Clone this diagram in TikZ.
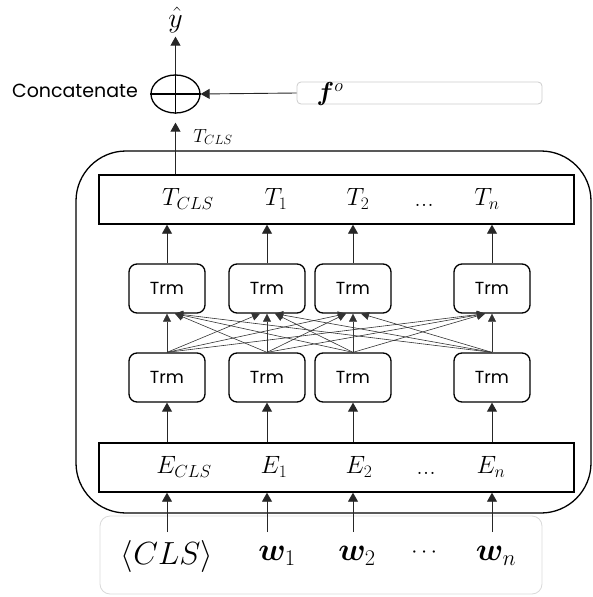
\RequirePackage{fix-cm}
\documentclass[tikz,border=0pt]{standalone}
\usepackage{fontspec}
\usepackage{amsmath,bm}
\setsansfont{Poppins}
\usetikzlibrary{arrows.meta,calc,shapes.geometric}

\begin{document}
\begin{tikzpicture}[x=1pt,y=-1pt,
  tip/.style={-{Triangle[length=9pt,width=10pt]}},
  link/.style={tip, line width=0.9pt, draw=black!85},
  cross/.style={-{Triangle[length=8pt,width=8pt]}, line width=0.6pt, draw=black!80},
  layer/.style={draw, line width=1.4pt, minimum width=475pt, minimum height=49pt, inner sep=0pt},
  trm/.style={draw, rounded corners=8pt, line width=1.3pt, minimum width=76pt,
    minimum height=49pt, inner sep=0pt, font=\sffamily\fontsize{17.5}{17.5}\selectfont},
  lab/.style={inner sep=0pt, font=\fontsize{25}{25}\selectfont},
  dots/.style={inner sep=0pt, font=\fontsize{26}{26}\selectfont},
  inlab/.style={inner sep=0pt, font=\fontsize{32}{32}\selectfont},
]
\useasboundingbox (0,0) rectangle (593,597);

% encoder frame and input panel
\node[draw, line width=1.3pt, rounded corners=50pt, minimum width=515pt,
      minimum height=362pt, inner sep=0pt] (enc) at (333.5,332) {};
\node[draw=black!15, line width=0.8pt, rounded corners=10pt, minimum width=442pt,
      minimum height=78pt, inner sep=0pt] (inp) at (321,555) {};

% output and embedding layers
\node[layer] (T) at (336.5,199.5) {};
\node[layer] (E) at (336.5,467.5) {};

\node[lab] (t0) at (188,199) {$T_{CLS}$};
\node[lab] (t1) at (276,199) {$T_1$};
\node[lab] (t2) at (358,199) {$T_2$};
\node[dots, anchor=base] (td) at (424,206) {...};
\node[lab] (tn) at (487,199) {$T_n$};

\node[lab] (e0) at (184,467) {$E_{CLS}$};
\node[lab] (e1) at (274,467) {$E_1$};
\node[lab] (e2) at (359,467) {$E_2$};
\node[dots, anchor=base] (ed) at (426,474) {...};
\node[lab] (en) at (491,467) {$E_n$};

\node[inlab] (w0) at (167,556) {$\langle CLS\rangle$};
\node[inlab] (w1) at (277,556) {$\bm{w}_1$};
\node[inlab] (w2) at (357,556) {$\bm{w}_2$};
\node[inner sep=0pt, font=\fontsize{22}{22}\selectfont] (wd) at (426,553) {$\cdots$};
\node[inlab] (wn) at (496,556) {$\bm{w}_n$};

% transformer blocks: a = lower row, b = upper row
\foreach \i/\x in {1/167,2/267,3/353,4/492}{
  \node[trm] (a\i) at (\x,377.5) {Trm};
  \node[trm] (b\i) at (\x,288.5) {Trm};
  \coordinate (in\i) at (\x,532);
  \draw[link] (in\i) -- (in\i |- E.south);
  \draw[link] (E.north -| a\i) -- (a\i.south);
  \draw[link] (b\i.north) -- (b\i.north |- T.south);
}

% all-to-all attention links between the two rows
\foreach \i in {1,...,4}{
  \foreach \j in {1,...,4}{
    \ifnum\i=\j
      \draw[cross] (a\i.north) -- (b\j.south);
    \else
      \ifnum\i<\j
        \draw[cross] (a\i.north) -- ($(b\j.south)+(-7,0)$);
      \else
        \draw[cross] (a\i.north) -- ($(b\j.south)+(8,0)$);
      \fi
    \fi
  }
}

% concatenation with the extra feature vector
\node[draw, ellipse, line width=1.3pt, minimum width=49pt, minimum height=38pt,
      inner sep=0pt] (cat) at (175.5,94) {};
\draw[line width=1.8pt] (cat.north) -- (cat.south) (cat.west) -- (cat.east);
\node[font=\sffamily\fontsize{19}{19}\selectfont, inner sep=0pt] (cc) at (75,91) {Concatenate};

\node[draw=black!20, line width=0.8pt, rounded corners=4pt, minimum width=245pt,
      minimum height=22pt, inner sep=0pt] (fo) at (419.5,93) {};
\node[inner sep=0pt, font=\fontsize{26}{26}\selectfont] (fol) at (330,94) {$\bm{f}^{o}$};
\draw[link] (fo.west) -- (cat.east);

\node[inner sep=0pt, font=\fontsize{28}{28}\selectfont] (yhat) at (175.5,20) {$\hat{y}$};
\draw[link, shorten >=4pt] (cat.north) -- (yhat.south);

\draw[link, shorten >=9pt] (T.north -| cat) -- (cat.south);
\node[inner sep=0pt, font=\fontsize{19}{19}\selectfont] (tcl) at (213,137) {$T_{CLS}$};
\end{tikzpicture}
\end{document}
